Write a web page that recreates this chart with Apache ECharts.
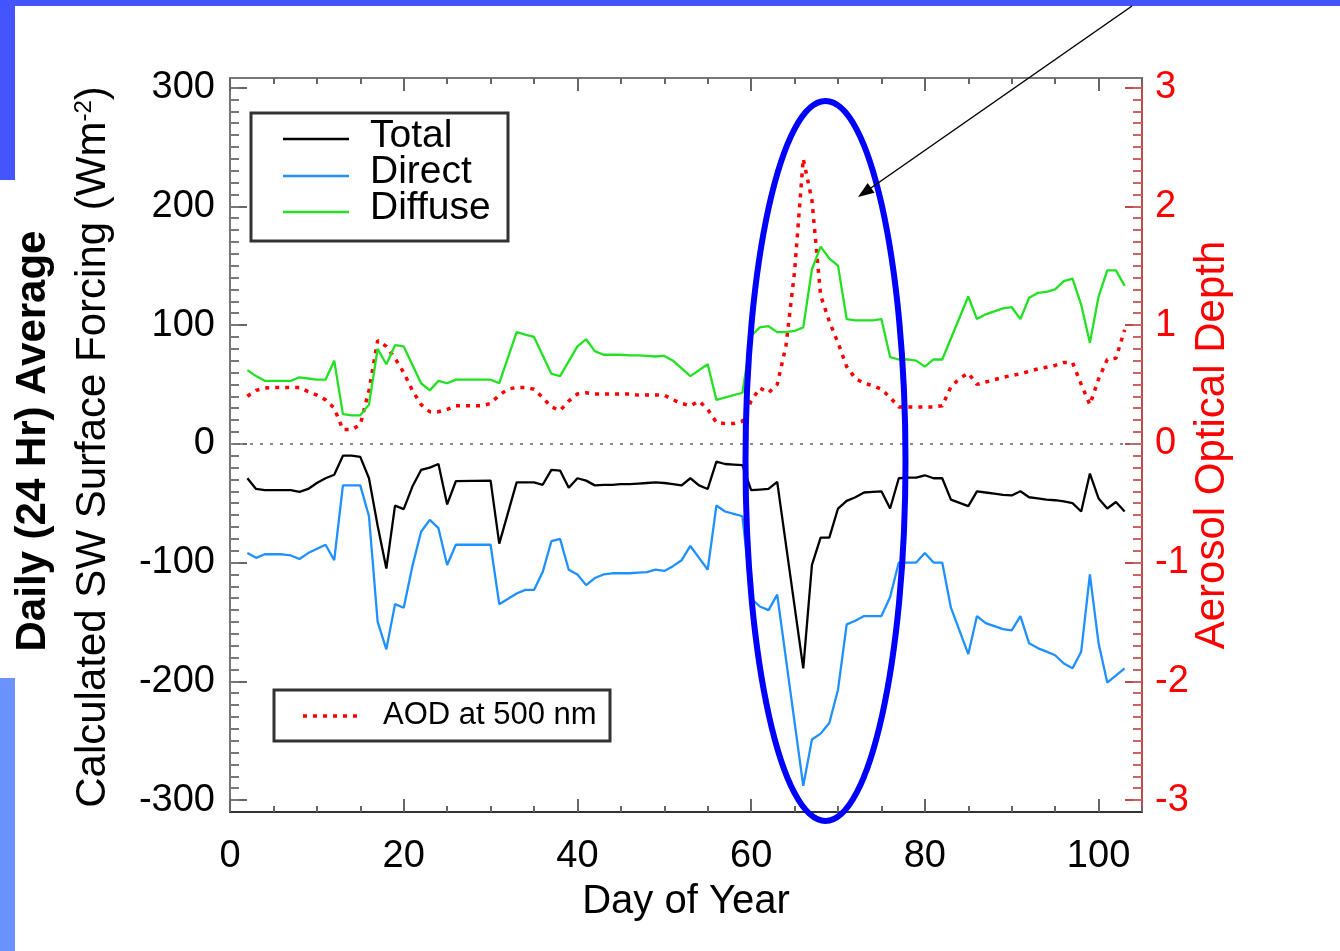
<!DOCTYPE html>
<html><head><meta charset="utf-8">
<script src="https://cdn.jsdelivr.net/npm/echarts@6/dist/echarts.min.js"></script>
<style>html,body{margin:0;padding:0;background:#fff;}#c{width:1340px;height:951px;}</style>
</head><body><div id="c"></div>
<script>
// ---- data ----
const days = [2,3,4,5,6,7,8,9,10,11,12,13,14,15,16,17,18,19,20,21,22,23,24,25,26,27,28,29,30,31,32,33,34,35,36,37,38,39,40,41,42,43,44,45,46,47,48,49,50,51,52,53,54,55,56,57,58,59,60,61,62,63,64,65,66,67,68,69,70,71,72,73,74,75,76,77,78,79,80,81,82,83,84,85,86,87,88,89,90,91,92,93,94,95,96,97,98,99,100,101,102,103];
const totalForcing = [-29,-38,-39,-39,-39,-39,-40.5,-38,-33,-29,
  -26,-10,-10,-11,-29,-69,-105,-52,-55,-36,
  -22,-20,-17,-51,-31.5,null,null,null,-31,-84,
  null,-32.5,-32.5,-32.5,-34.5,-22,-22.5,-37,-29,-31,
  -35,-34.5,-34.5,-34,-34,-33.5,-33,-32.5,-33,-34,
  -35,-29,-35,-38,-15,-17,-17.5,-18,-39,-38.5,
  -38,-32,null,null,-189,-102,-79,-79,-54.5,-48,
  -45,-41,-40.5,-40,-54.5,-29,-28.5,-28.5,-26.5,-29,
  -29,-47,null,-52.5,-40,-41,-42,-43,-43.5,-40,
  -45,-46,-47,-47.5,-48.5,-50,-57,-25,-46,-54.5,
  -49,-57];
const directForcing = [-92,-96,-93,-93,-93,-94,-97,-92,null,-85,
  -98,-35,-35,-35,-61,-150,-173,-135,-138,-103,
  -74,-64,-71,-102,-85,null,null,null,-85,-135,
  null,-126,-123,-123,-108,-82,-80,-106,-110,-119,
  -113,-110,-109,-109,-109,-108.5,-108,-106,-107,-103,
  -98,-86,-96,-106,-52,-57,-59,-61,-130,-137,
  -140,-127,null,null,-288,-249,-244,-235,-207,-152,
  -149,-145,-145,-145,-129,-100,-100,-100,-92,-100,
  -100,-138,null,-177,-145,-151,null,-156,-157,-145,
  -168,-172,-175,-178,-185,-189,-175,-110,-168,-201,
  null,-189];
const diffuseForcing = [62,57,53,53,53,53,56,55,54,54,
  70,25,24,24,33,80,67,83,82,null,
  51,45,53,51,54,null,null,null,54,51,
  null,94,92,90,null,59,57,null,82,88,
  78,75,75,75,74.5,74.5,74,73.5,74,70,
  null,57,null,67,37,null,null,43,91,98,
  99,94,94,95,98,147,166,156,150,105,
  104,104,104,105,73,71,71,70,65,71,
  71,null,null,124,105,109,null,114,115,105,
  123,127,128,130,137,139,117,85,124,146,
  146,133];
const aod500 = [0.40,0.45,0.47,0.475,0.475,0.475,0.475,0.44,0.41,0.37,
  0.30,0.12,0.12,0.16,0.45,0.87,0.82,0.72,0.60,0.45,
  0.33,0.27,0.27,0.29,0.32,0.32,0.32,0.32,0.34,0.41,
  0.46,0.475,0.475,0.46,0.39,0.31,0.28,0.36,0.42,0.43,
  0.42,0.42,0.42,0.42,0.42,0.41,0.41,0.41,0.41,0.37,
  0.34,0.32,0.36,0.29,0.18,0.17,0.17,0.19,0.36,0.47,
  0.43,0.50,0.82,1.45,2.40,2.05,1.25,1.03,0.85,0.65,
  0.55,0.51,0.49,0.46,0.39,0.31,0.31,0.31,0.31,0.31,
  0.32,0.48,0.55,0.595,0.50,0.52,0.54,0.56,0.575,0.59,
  0.61,0.63,0.645,0.66,0.685,0.685,0.50,0.33,0.545,0.71,
  0.72,0.96];
const seriesNames = ['Total','Direct','Diffuse','AOD at 500 nm'];
const xTickLabels = [0,20,40,60,80,100];
const yLeftTickLabels = [-300,-200,-100,0,100,200,300];
const yRightTickLabels = [-3,-2,-1,0,1,2,3];

// ---- helpers ----
function pairs(xs, ys){ const out=[]; xs.forEach((d,i)=>{ if(ys[i]!==null) out.push([d, ys[i]]); }); return out; }
function range(a,b,s){ const r=[]; const n=Math.round((b-a)/s); for(let i=0;i<=n;i++) r.push(+(a+i*s).toFixed(3)); return r; }

const FONT = "'Liberation Sans', Arial, Helvetica, sans-serif";
const chart = echarts.init(document.getElementById('c'), null, {renderer:'canvas'});

const xMin = 0, xMax = 105, yLMin = -310, yLMax = 308, yRMin = -3.10, yRMax = 3.08;
function xAx(pos, len, ticks, showLine, showLabel){
  return {type:'value', position:pos, min:xMin, max:xMax, gridIndex:0,
    axisLine:{show:showLine, onZero:false, lineStyle:{color: pos==='bottom' ? '#333' : '#777', width:2}},
    axisTick:{show:true, inside:true, length:len, customValues:ticks, lineStyle:{color:'#666', width:2}},
    axisLabel:{show:showLabel, customValues:xTickLabels, fontSize:38, color:'#000', fontFamily:FONT, margin:26},
    splitLine:{show:false}};
}
function yAx(pos, min, max, len, ticks, labels, lineColor, tickColor, labelColor, showLine){
  return {type:'value', position:pos, min:min, max:max, gridIndex:0,
    axisLine:{show:showLine, onZero:false, lineStyle:{color:lineColor, width:2}},
    axisTick:{show:true, inside:true, length:len, customValues:ticks, lineStyle:{color:tickColor, width:2}},
    axisLabel:{show:!!labels, customValues:labels || undefined, fontSize:38, color:labelColor, fontFamily:FONT, margin: pos==='left'?15:13},
    splitLine:{show:false}};
}

const option = {
  animation:false,
  backgroundColor:'#fff',
  grid:{left:230, top:78, width:912, height:734, containLabel:false},
  xAxis:[
    xAx('bottom', 13, xTickLabels, true, true),
    xAx('bottom', 6, range(0,105,5), false, false),
    xAx('top', 13, xTickLabels, true, false),
    xAx('top', 6, range(0,105,5), false, false)
  ],
  yAxis:[
    yAx('left', yLMin, yLMax, 17, yLeftTickLabels, yLeftTickLabels, '#777', '#666', '#000', true),
    yAx('left', yLMin, yLMax, 9, range(-300,300,10), null, '#777', '#777', '#000', false),
    yAx('right', yRMin, yRMax, 17, yRightTickLabels, yRightTickLabels, '#c04a4a', '#c04a4a', '#ff0000', true),
    yAx('right', yRMin, yRMax, 9, range(-3,3,0.1), null, '#c04a4a', '#c86464', '#ff0000', false)
  ],
  series:[
    {name:seriesNames[0], type:'line', xAxisIndex:0, yAxisIndex:0, data:pairs(days,totalForcing), showSymbol:false, symbol:'none',
      lineStyle:{color:'#000', width:2.3}, z:3,
      markLine:{silent:true, symbol:'none', label:{show:false}, lineStyle:{color:'#888', type:[3,7], width:2}, data:[{yAxis:0}], z:1}},
    {name:seriesNames[1], type:'line', xAxisIndex:0, yAxisIndex:0, data:pairs(days,directForcing), showSymbol:false, symbol:'none',
      lineStyle:{color:'#1e90ff', width:2.3}, z:3},
    {name:seriesNames[2], type:'line', xAxisIndex:0, yAxisIndex:0, data:pairs(days,diffuseForcing), showSymbol:false, symbol:'none',
      lineStyle:{color:'#22e022', width:2.3}, z:3},
    {name:seriesNames[3], type:'line', xAxisIndex:0, yAxisIndex:2, data:pairs(days,aod500), showSymbol:false, symbol:'none',
      lineStyle:{color:'#ff0000', width:3.5, type:[4,6]}, z:2}
  ],
  graphic:[
    {type:'rect', shape:{x:0,y:0,width:1340,height:6}, style:{fill:'#4455ff'}, z:50},
    {type:'rect', shape:{x:0,y:0,width:15,height:180}, style:{fill:'#4455ff'}, z:50},
    {type:'rect', shape:{x:0,y:678,width:15,height:273}, style:{fill:'#6b93ff'}, z:50},
    // legend 1
    {type:'rect', shape:{x:251,y:113,width:257,height:128}, style:{fill:'#fff', stroke:'#333', lineWidth:3}, z:20},
    {type:'line', shape:{x1:283,y1:139,x2:349,y2:139}, style:{stroke:'#000', lineWidth:2.3}, z:21},
    {type:'line', shape:{x1:283,y1:176,x2:349,y2:176}, style:{stroke:'#1e90ff', lineWidth:2.3}, z:21},
    {type:'line', shape:{x1:283,y1:212,x2:349,y2:212}, style:{stroke:'#22e022', lineWidth:2.3}, z:21},
    {type:'text', x:370, y:136, style:{text:seriesNames[0], font:'39px '+FONT, fill:'#000', verticalAlign:'middle'}, z:21},
    {type:'text', x:370, y:172, style:{text:seriesNames[1], font:'39px '+FONT, fill:'#000', verticalAlign:'middle'}, z:21},
    {type:'text', x:370, y:208, style:{text:seriesNames[2], font:'39px '+FONT, fill:'#000', verticalAlign:'middle'}, z:21},
    // legend 2
    {type:'rect', shape:{x:274,y:690,width:336,height:51}, style:{fill:'#fff', stroke:'#333', lineWidth:3}, z:20},
    {type:'line', shape:{x1:303,y1:716,x2:360,y2:716}, style:{stroke:'#ff0000', lineWidth:3.5, lineDash:[4,6]}, z:21},
    {type:'text', x:383, y:715, style:{text:seriesNames[3], font:'31px '+FONT, fill:'#000', verticalAlign:'middle'}, z:21},
    // axis titles
    {type:'text', x:686, y:902, style:{text:'Day of Year', font:'40px '+FONT, fill:'#000', align:'center', verticalAlign:'middle'}, z:21},
    {type:'text', x:93, y:447, rotation:Math.PI/2, style:{
      text:'Calculated SW Surface Forcing (Wm{sup|-2})', font:'42px '+FONT, fill:'#000', align:'center', verticalAlign:'middle',
      rich:{sup:{fontSize:24, fontFamily:FONT, verticalAlign:'top', fill:'#000', padding:[0,0,18,0]}}}, z:21},
    {type:'text', x:33, y:441, rotation:Math.PI/2, style:{text:'Daily (24 Hr) Average', font:'bold 42px '+FONT, fill:'#000', align:'center', verticalAlign:'middle'}, z:21},
    {type:'text', x:1212, y:445, rotation:Math.PI/2, style:{text:'Aerosol Optical Depth', font:'42px '+FONT, fill:'#ff0000', align:'center', verticalAlign:'middle'}, z:21},
    // annotation: ellipse + arrow
    {type:'ellipse', shape:{cx:825.5, cy:461, rx:80, ry:360}, style:{fill:null, stroke:'#0000ff', lineWidth:6}, z:60},
    {type:'line', shape:{x1:1132,y1:6,x2:868,y2:190}, style:{stroke:'#000', lineWidth:1.5}, z:60},
    {type:'polygon', shape:{points:[[858,197],[874.5,192.8],[867.7,182.9]]}, style:{fill:'#000'}, z:60}
  ]
};
chart.setOption(option);
</script></body></html>
